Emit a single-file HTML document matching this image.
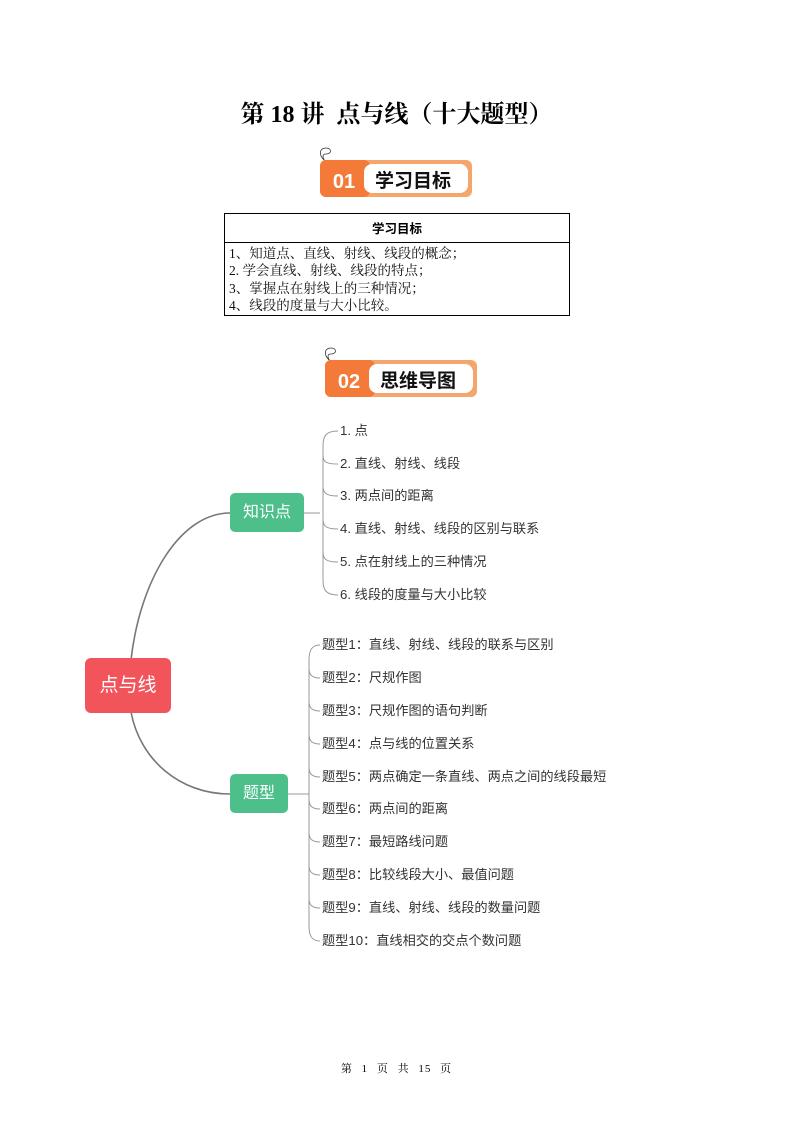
<!DOCTYPE html>
<html><head><meta charset="utf-8"><style>
body{margin:0;width:793px;height:1122px;background:#fff;position:relative;font-family:"Liberation Sans","Noto Sans CJK SC",sans-serif;overflow:hidden}
.a{position:absolute}
.serif{font-family:"Liberation Serif","Noto Serif CJK SC",serif}
.it{position:absolute;font-size:13.2px;color:#333;white-space:nowrap;line-height:14px}
</style></head><body>
<div class="a serif" style="left:0;width:793px;top:94px;text-align:center;font-size:24px;font-weight:bold;color:#000">第 18 讲&nbsp; 点与线（十大题型）</div>

<svg class="a" style="left:300px;top:140px" width="190" height="62">
<path d="M24 20 C18 14,20 8,26 8 C32 8,32 14,26 14 C22 14,22 18,26 22" fill="none" stroke="#333" stroke-width="0.8"/>
<rect x="20" y="20" width="152" height="37" rx="6" fill="#f5a66c"/>
<rect x="20" y="20" width="50" height="37" rx="6" fill="#f47a3a"/>
<rect x="64" y="24" width="104" height="29" rx="8" fill="#fff"/>
<text x="44" y="48" text-anchor="middle" font-family="Liberation Sans" font-weight="bold" font-size="20" fill="#fff">01</text>
<text x="113" y="47" text-anchor="middle" font-family="Noto Sans CJK SC" font-weight="bold" font-size="19" fill="#111">学习目标</text>
</svg>

<div class="a" style="left:224px;top:213px;width:344px;height:101px;border:1px solid #000"></div>
<div class="a" style="left:224px;top:242px;width:346px;height:1px;background:#000"></div>
<div class="a" style="left:224px;top:218px;width:346px;text-align:center;font-size:12.5px;font-weight:bold">学习目标</div>
<div class="a serif" style="left:229px;top:245px;font-size:13.5px;line-height:17.3px;color:#111">1、知道点、直线、射线、线段的概念；<br>2. 学会直线、射线、线段的特点；<br>3、掌握点在射线上的三种情况；<br>4、线段的度量与大小比较。</div>

<svg class="a" style="left:305px;top:340px" width="190" height="62">
<path d="M24 20 C18 14,20 8,26 8 C32 8,32 14,26 14 C22 14,22 18,26 22" fill="none" stroke="#333" stroke-width="0.8"/>
<rect x="20" y="20" width="152" height="37" rx="6" fill="#f5a66c"/>
<rect x="20" y="20" width="50" height="37" rx="6" fill="#f47a3a"/>
<rect x="64" y="24" width="104" height="29" rx="8" fill="#fff"/>
<text x="44" y="48" text-anchor="middle" font-family="Liberation Sans" font-weight="bold" font-size="20" fill="#fff">02</text>
<text x="113" y="47" text-anchor="middle" font-family="Noto Sans CJK SC" font-weight="bold" font-size="19" fill="#111">思维导图</text>
</svg>

<svg class="a" style="left:0;top:0" width="793" height="1122">
<g fill="none" stroke="#777" stroke-width="1.6">
<path d="M131 660 C140 580,180 513,230 513"/>
<path d="M131 712 C140 760,180 794,230 794"/>
</g>
<g fill="none" stroke="#999" stroke-width="1">
<path d="M304 513 H320"/>
<path d="M338 431 C326 431,323 436,323 446 V580 C323 590,326 595,338 595"/>
<path d="M323 455 C323 462,326 464,338 464"/>
<path d="M323 486 C323 493,326 496,338 496"/>
<path d="M323 519 C323 526,326 529,338 529"/>
<path d="M323 552 C323 559,326 562,338 562"/>
<path d="M288 794 H309"/>
<path d="M320 645 C312 645,309 650,309 660 V926 C309 936,312 941,320 941"/>
<path d="M309 668 C309 675,312 678,320 678"/>
<path d="M309 701 C309 708,312 711,320 711"/>
<path d="M309 734 C309 741,312 744,320 744"/>
<path d="M309 767 C309 774,312 777,320 777"/>
<path d="M309 799 C309 806,312 809,320 809"/>
<path d="M309 832 C309 839,312 842,320 842"/>
<path d="M309 865 C309 872,312 875,320 875"/>
<path d="M309 898 C309 905,312 908,320 908"/>
</g>
</svg>

<div class="a" style="left:85px;top:658px;width:86px;height:55px;background:#f2545b;border-radius:6px;color:#fff;font-size:19px;text-align:center;line-height:55px">点与线</div>
<div class="a" style="left:230px;top:493px;width:74px;height:39px;background:#4cbf8a;border-radius:5px;color:#fff;font-size:16px;text-align:center;line-height:39px">知识点</div>
<div class="a" style="left:230px;top:774px;width:58px;height:39px;background:#4cbf8a;border-radius:5px;color:#fff;font-size:16px;text-align:center;line-height:39px">题型</div>

<div class="it" style="left:340px;top:424px">1. 点</div>
<div class="it" style="left:340px;top:457px">2. 直线、射线、线段</div>
<div class="it" style="left:340px;top:489px">3. 两点间的距离</div>
<div class="it" style="left:340px;top:522px">4. 直线、射线、线段的区别与联系</div>
<div class="it" style="left:340px;top:555px">5. 点在射线上的三种情况</div>
<div class="it" style="left:340px;top:588px">6. 线段的度量与大小比较</div>

<div class="it" style="left:322px;top:638px">题型1：直线、射线、线段的联系与区别</div>
<div class="it" style="left:322px;top:671px">题型2：尺规作图</div>
<div class="it" style="left:322px;top:704px">题型3：尺规作图的语句判断</div>
<div class="it" style="left:322px;top:737px">题型4：点与线的位置关系</div>
<div class="it" style="left:322px;top:770px">题型5：两点确定一条直线、两点之间的线段最短</div>
<div class="it" style="left:322px;top:802px">题型6：两点间的距离</div>
<div class="it" style="left:322px;top:835px">题型7：最短路线问题</div>
<div class="it" style="left:322px;top:868px">题型8：比较线段大小、最值问题</div>
<div class="it" style="left:322px;top:901px">题型9：直线、射线、线段的数量问题</div>
<div class="it" style="left:322px;top:934px">题型10：直线相交的交点个数问题</div>

<div class="a serif" style="left:0;width:793px;top:1060px;text-align:center;font-size:11px;color:#000;word-spacing:5px;letter-spacing:1px">第 1 页 共 15 页</div>
</body></html>
